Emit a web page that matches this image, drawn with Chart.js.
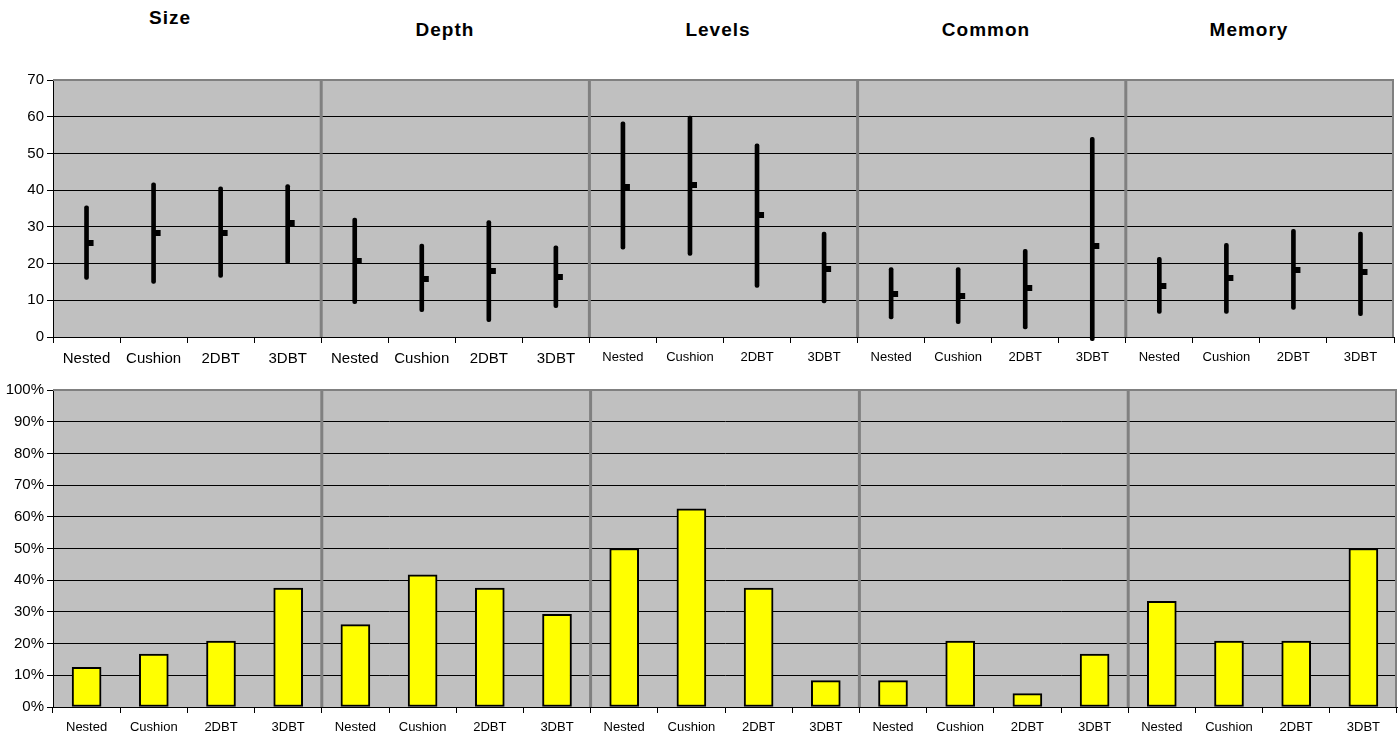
<!DOCTYPE html>
<html>
<head>
<meta charset="utf-8">
<script src="https://cdn.jsdelivr.net/npm/chart.js@4/dist/chart.umd.min.js"></script>
<style>
  body { margin: 0; background: #fff; width: 1399px; height: 736px; overflow: hidden; }
  .wrap { position: absolute; left: 0; width: 1399px; }
  #topWrap { top: 0; height: 372px; }
  #bottomWrap { top: 372px; height: 364px; }
  .title {
    position: absolute; font-family: "Liberation Sans", Arial, sans-serif;
    font-weight: bold; font-size: 19px; letter-spacing: 1px; color: #000;
    transform: translate(-50%, -50%); white-space: nowrap;
  }
</style>
</head>
<body>
<div id="titles"></div>
<div class="wrap" id="topWrap"><canvas id="rangeChart"></canvas></div>
<div class="wrap" id="bottomWrap"><canvas id="shareChart"></canvas></div>
<script>
const groups = ["Size", "Depth", "Levels", "Common", "Memory"];
const methods = ["Nested", "Cushion", "2DBT", "3DBT"];

// top panel: min / max / mean per method, group by group
const rangeLow = [15.7, 14.6, 16.2, 20.0, 9.1, 6.9, 4.2, 8.0, 23.9, 22.2, 13.5, 9.3, 4.9, 3.6, 2.2, -1.0, 6.4, 6.4, 7.5, 5.8];
const rangeHigh = [35.7, 42.0, 40.9, 41.5, 32.4, 25.3, 31.7, 24.8, 58.6, 60.2, 52.6, 28.6, 18.9, 18.9, 23.9, 54.4, 21.7, 25.5, 29.3, 28.6];
const rangeMean = [25.7, 28.4, 28.4, 31.1, 20.7, 15.8, 18.0, 16.4, 40.9, 41.5, 33.3, 18.6, 11.7, 11.1, 13.3, 24.8, 13.8, 16.0, 18.2, 17.7];

// bottom panel: percentage per method
const sharePct = [12.5, 16.7, 20.8, 37.5, 26.0, 41.7, 37.5, 29.2, 50.0, 62.5, 37.5, 8.3, 8.3, 20.8, 4.2, 16.7, 33.3, 20.8, 20.8, 50.0];

const topTicks = { min: 0, max: 70, step: 10 };
const pctTicks = { min: 0, max: 100, step: 10 };

const labels = [];
groups.forEach(() => methods.forEach((m) => labels.push(m)));

const FONT = "'Liberation Sans', Arial, sans-serif";

// group titles
const titlePos = [[170, 18], [445, 30], [718, 30], [986, 30], [1249, 30]];
const titleBox = document.getElementById("titles");
groups.forEach((g, i) => {
  const d = document.createElement("div");
  d.className = "title";
  d.textContent = g;
  d.style.left = titlePos[i][0] + "px";
  d.style.top = titlePos[i][1] + "px";
  titleBox.appendChild(d);
});

// mean marker: small square just right of the range line
function meanMarker() {
  const c = document.createElement("canvas");
  c.width = 16;
  c.height = 6;
  const g = c.getContext("2d");
  g.fillStyle = "#000";
  g.fillRect(9, 0, 6, 6);
  return c;
}

// grey plot area, group separators and the grey frame
const plotArea = {
  id: "plotArea",
  beforeDraw(chart) {
    const a = chart.chartArea;
    const ctx = chart.ctx;
    ctx.save();
    ctx.fillStyle = "#C0C0C0";
    ctx.fillRect(a.left, a.top, a.right - a.left, a.bottom - a.top);
    ctx.restore();
  },
  beforeDatasetsDraw(chart) {
    const a = chart.chartArea;
    const ctx = chart.ctx;
    const x = chart.scales.x;
    ctx.save();
    ctx.strokeStyle = "#808080";
    ctx.lineWidth = 3;
    for (let g = 1; g < groups.length; g++) {
      const px = (x.getPixelForValue(g * 4 - 1) + x.getPixelForValue(g * 4)) / 2;
      ctx.beginPath();
      ctx.moveTo(px, a.top);
      ctx.lineTo(px, a.bottom);
      ctx.stroke();
    }
    ctx.lineWidth = 2;
    ctx.beginPath();
    ctx.moveTo(a.left, a.top);
    ctx.lineTo(a.right - 1, a.top);
    ctx.lineTo(a.right - 1, a.bottom);
    ctx.stroke();
    ctx.restore();
  },
};

function xAxis(height, fontFn, pad) {
  return {
    afterFit: (s) => { s.height = height; },
    grid: { offset: true, drawOnChartArea: false, tickLength: 6, color: "#000", tickColor: "#000" },
    border: { color: "#000", width: 1 },
    ticks: { autoSkip: false, maxRotation: 0, color: "#000", font: fontFn, padding: pad },
  };
}

function yAxis(t, fmt, fontSize) {
  return {
    min: t.min,
    max: t.max,
    afterFit: (s) => { s.width = 53; },
    grid: {
      color: (c) => (c.tick && c.tick.value === t.max ? "#808080" : "#000"),
      tickColor: "#000",
      tickLength: 6,
    },
    border: { color: "#000", width: 1 },
    ticks: {
      stepSize: t.step,
      color: "#000",
      padding: 3,
      font: { family: FONT, size: fontSize },
      callback: fmt,
    },
  };
}

function initRangeChart(canvas) {
  const data = {
    labels: labels,
    datasets: [
      {
        type: "line",
        label: "Mean",
        data: rangeMean,
        showLine: false,
        pointStyle: meanMarker(),
        pointRadius: 3,
        order: 0,
      },
      {
        type: "bar",
        label: "Range",
        data: rangeLow.map((lo, i) => [lo, rangeHigh[i]]),
        backgroundColor: "#000",
        borderWidth: 0,
        barThickness: 4,
        borderRadius: 2,
        borderSkipped: false,
        clip: false,
        order: 1,
      },
    ],
  };

  const config = {
    data: data,
    options: {
      responsive: true,
      maintainAspectRatio: false,
      animation: false,
      layout: { padding: { top: 80, right: 2, left: 0, bottom: 0 } },
      plugins: { legend: { display: false }, tooltip: { enabled: false } },
      scales: {
        x: xAxis(35, (c) => ({ family: FONT, size: c.index < 8 ? 15 : 13 }), 7),
        y: yAxis(topTicks, (v) => v, 15),
      },
    },
    plugins: [plotArea],
  };

  return new Chart(canvas, config);
}

function initShareChart(canvas) {
  const data = {
    labels: labels,
    datasets: [
      {
        label: "Share",
        data: sharePct,
        backgroundColor: "#FFFF00",
        borderColor: "#000",
        borderWidth: 2,
        borderSkipped: false,
        barThickness: 29,
      },
    ],
  };

  const config = {
    type: "bar",
    data: data,
    options: {
      responsive: true,
      maintainAspectRatio: false,
      animation: false,
      layout: { padding: { top: 18, right: 2, left: 0, bottom: 0 } },
      plugins: { legend: { display: false }, tooltip: { enabled: false } },
      scales: {
        x: xAxis(29, () => ({ family: FONT, size: 13 }), 7),
        y: yAxis(pctTicks, (v) => v + "%", 15),
      },
    },
    plugins: [plotArea],
  };

  return new Chart(canvas, config);
}

function mainEvent() {
  initRangeChart(document.querySelector("#rangeChart"));
  initShareChart(document.querySelector("#shareChart"));
}

document.addEventListener("DOMContentLoaded", () => mainEvent());
</script>
</body>
</html>
